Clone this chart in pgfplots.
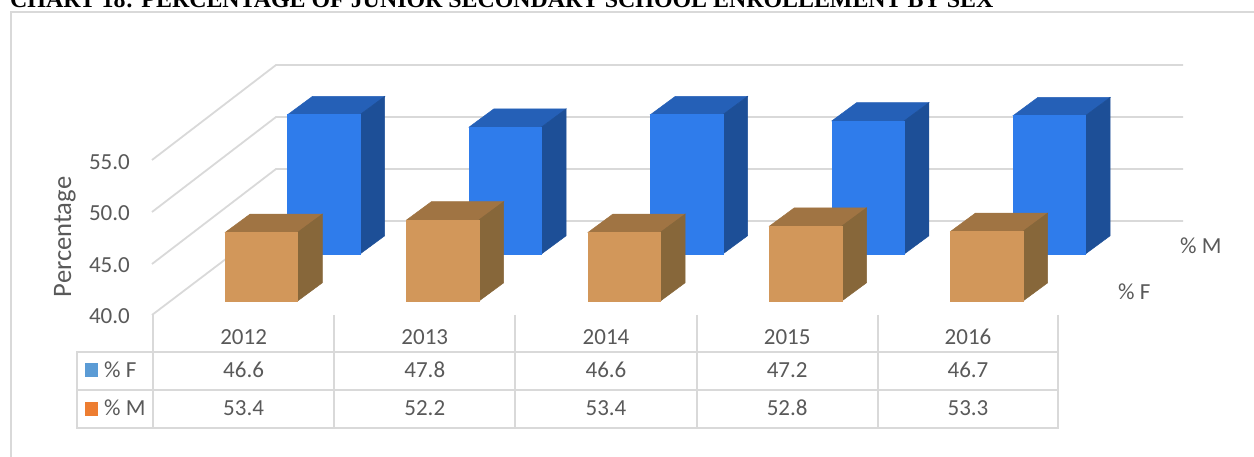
\documentclass[border=0pt]{standalone}
\usepackage{pgfplots}
\pgfplotsset{compat=1.18}
\usepackage{fontspec}
\setmainfont{Carlito}
\newfontfamily\titlefont{Liberation Serif}
\definecolor{txt}{HTML}{595959}
\definecolor{gridc}{HTML}{D9D9D9}
\definecolor{bf}{HTML}{2F7CEB}
\definecolor{bs}{HTML}{1D4F97}
\definecolor{bt}{HTML}{2560B7}
\definecolor{of}{HTML}{D2975A}
\definecolor{os}{HTML}{87673A}
\definecolor{ot}{HTML}{A07443}
\definecolor{sa}{HTML}{5B9BD5}
\definecolor{sb}{HTML}{ED7D31}
% one 3-D column: left edge, value, base value, front, side, top colour, x shift, y shift
\newcommand\colbar[8]{%
  \pgfmathsetmacro\xa{#1}\pgfmathsetmacro\xb{#1+72.3}\pgfmathsetmacro\xc{#1+97}\pgfmathsetmacro\xd{#1+24.7}%
  \pgfmathsetmacro\vb{#3+1.75}\pgfmathsetmacro\vt{#2+1.75}%
  \edef\tmp{\noexpand\addplot[fill=#6,draw=#6,line width=0.5pt,xshift=#7pt,yshift=#8pt,forget plot] coordinates {(\xa,#2)(\xb,#2)(\xc,\vt)(\xd,\vt)} --cycle;
  \noexpand\addplot[fill=#5,draw=#5,line width=0.5pt,xshift=#7pt,yshift=#8pt,forget plot] coordinates {(\xb,#3)(\xc,\vb)(\xc,\vt)(\xb,#2)} --cycle;
  \noexpand\addplot[fill=#4,draw=#4,line width=0.5pt,xshift=#7pt,yshift=#8pt,forget plot] coordinates {(\xa,#3)(\xb,#3)(\xb,#2)(\xa,#2)} --cycle;}\tmp}
\newcommand\PX[2]{axis cs:#1,{40+(301-(#2))/10.4}}
\begin{document}
\begin{tikzpicture}[x=1pt,y=1pt]
\clip (0,0) rectangle (1254,456);
\begin{axis}[at={(0,0)},anchor=south west,scale only axis,width=1254pt,height=456pt,
  xmin=0,xmax=1254,ymin=25.096,ymax=68.942,hide axis,clip=false]
% frame
\draw[gridc,line width=2pt] (\PX{10.5}{460}) -- (\PX{10.5}{12.5}) -- (\PX{1260}{12.5});
\node[font=\titlefont\bfseries\fontsize{23.9}{26}\selectfont,anchor=base west,inner sep=0pt,black] at (\PX{10}{7.5}) {CHART 18: PERCENTAGE OF JUNIOR SECONDARY SCHOOL ENROLLEMENT BY SEX};
% walls
\foreach \a/\b in {65/160,117/212,169/264,221/315}{
  \edef\tmp{\noexpand\draw[gridc,line width=1.8pt] (\noexpand\PX{152}{\b}) -- (\noexpand\PX{276}{\a}) -- (\noexpand\PX{1183}{\a});}\tmp}
% columns: % M behind, % F in front
\colbar{225.3}{53.4}{40}{bf}{bs}{bt}{62.4}{47}
\colbar{406.7}{52.2}{40}{bf}{bs}{bt}{62.4}{47}
\colbar{588.1}{53.4}{40}{bf}{bs}{bt}{62.4}{47}
\colbar{769.5}{52.8}{40}{bf}{bs}{bt}{62.4}{47}
\colbar{950.7}{53.3}{40}{bf}{bs}{bt}{62.4}{47}
\colbar{225.3}{46.6}{40}{of}{os}{ot}{0}{0}
\colbar{406.7}{47.8}{40}{of}{os}{ot}{0}{0}
\colbar{588.1}{46.6}{40}{of}{os}{ot}{0}{0}
\colbar{769.5}{47.2}{40}{of}{os}{ot}{0}{0}
\colbar{950.7}{46.7}{40}{of}{os}{ot}{0}{0}
% table
\foreach \x in {153,334.2,515.4,696.6,877.8,1058}{
  \edef\tmp{\noexpand\draw[gridc,line width=2pt] (\noexpand\PX{\x}{315}) -- (\noexpand\PX{\x}{428});}\tmp}
\foreach \y in {352,390,428}{
  \edef\tmp{\noexpand\draw[gridc,line width=2pt] (\noexpand\PX{76}{\y}) -- (\noexpand\PX{1059}{\y});}\tmp}
\draw[gridc,line width=2pt] (\PX{76.5}{352}) -- (\PX{76.5}{428});
\begin{scope}[every node/.style={font=\fontsize{23}{26}\selectfont,text=txt,inner sep=0pt}]
\node[anchor=east] at (\PX{130}{162}) {55.0};
\node[anchor=east] at (\PX{130}{213.5}) {50.0};
\node[anchor=east] at (\PX{130}{265}) {45.0};
\node[anchor=east] at (\PX{130}{316}) {40.0};
\node[rotate=90,font=\fontsize{26.6}{28}\selectfont] at (\PX{65}{237}) {Percentage};
\node[anchor=west] at (\PX{1180}{246}) {\% M};
\node[anchor=west] at (\PX{1118}{292}) {\% F};
\node[anchor=west] at (\PX{104}{370}) {\% F};
\node[anchor=west] at (\PX{104}{408}) {\% M};
\foreach \x/\yr/\f/\m in {243.6/2012/46.6/53.4,424.8/2013/47.8/52.2,606/2014/46.6/53.4,787.2/2015/47.2/52.8,968/2016/46.7/53.3}{
  \edef\tmp{\noexpand\node at (\noexpand\PX{\x}{337}) {\yr};
  \noexpand\node at (\noexpand\PX{\x}{370}) {\f};
  \noexpand\node at (\noexpand\PX{\x}{408}) {\m};}\tmp}
\end{scope}
\fill[sa] (\PX{85}{363}) rectangle (\PX{98}{377});
\fill[sb] (\PX{85}{402}) rectangle (\PX{98}{416});
\end{axis}
\end{tikzpicture}
\end{document}
